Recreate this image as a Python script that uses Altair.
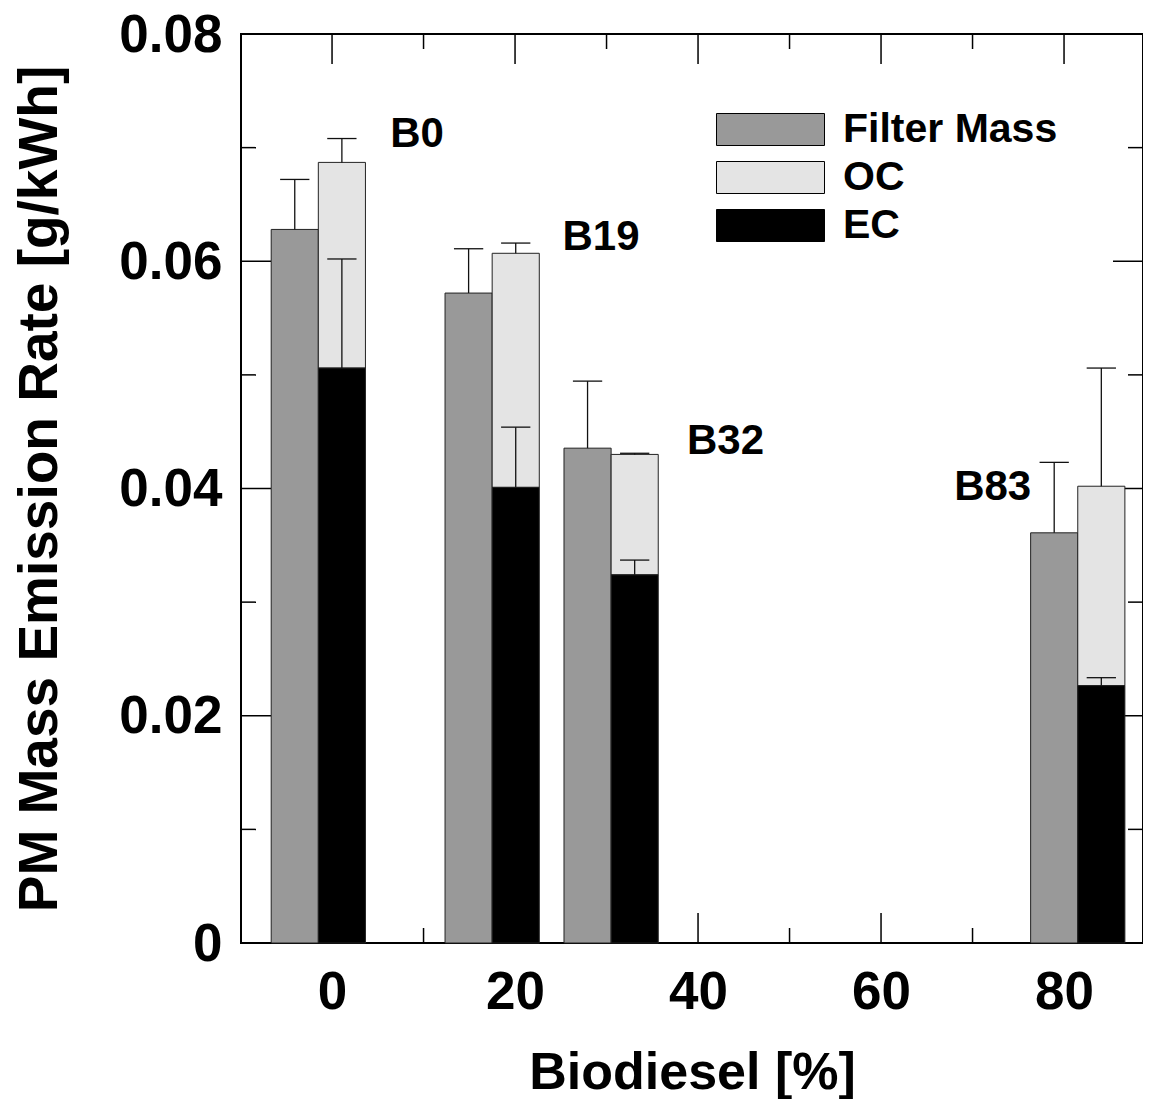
import altair as alt
import pandas as pd

# ---- data ----
blend_pct = [0, 19, 32, 83]
blend_labels = ["B0", "B19", "B32", "B83"]
filter_mass = [0.0628, 0.0572, 0.04355, 0.0361]
filter_mass_err = [0.0044, 0.0039, 0.0059, 0.0062]
ec_values = [0.0506, 0.0401, 0.0324, 0.02265]
ec_err = [0.0096, 0.0053, 0.0013, 0.0007]
oc_values = [0.0181, 0.0206, 0.0106, 0.01755]
total_err = [0.0021, 0.0009, 0.0001, 0.0104]
label_x = [9.3, 29.4, 43.0, 72.2]
label_y = [0.0712, 0.0621, 0.0442, 0.0401]

components = ["Filter Mass", "OC", "EC"]
component_colors = ["#999999", "#e4e4e4", "#000000"]

x_major = [0, 20, 40, 60, 80]
x_minor = [10, 30, 50, 70]
y_major = [0, 0.02, 0.04, 0.06, 0.08]
y_minor = [0.01, 0.03, 0.05, 0.07]

# ---- geometry / style ----
W, H = 902, 909
X_DOMAIN = [-9.95, 88.63]
BAR_W = 5.15
SHIFT = -1.5
CAP = 1.6
FONT = "Liberation Sans"
MAJ, MIN = 30, 15

bars, errs = [], []
for p, fm, fe, ec, ee, oc, te in zip(blend_pct, filter_mass, filter_mass_err,
                                     ec_values, ec_err, oc_values, total_err):
    j = p + SHIFT
    bars.append(dict(x=j - BAR_W, x2=j, y=0, y2=fm, comp="Filter Mass"))
    bars.append(dict(x=j, x2=j + BAR_W, y=ec, y2=ec + oc, comp="OC"))
    bars.append(dict(x=j, x2=j + BAR_W, y=0, y2=ec, comp="EC"))
    for c, base, e in [(j - BAR_W / 2, fm, fe), (j + BAR_W / 2, ec, ee),
                       (j + BAR_W / 2, ec + oc, te)]:
        errs.append(dict(x=c, cl=c - CAP, cr=c + CAP, y=base, y2=base + e))
bars_df = pd.DataFrame(bars)
errs_df = pd.DataFrame(errs)
labels_df = pd.DataFrame(dict(x=label_x, y=label_y, t=blend_labels))

xs = alt.Scale(domain=X_DOMAIN, nice=False, zero=False)
ys = alt.Scale(domain=[0, 0.08], nice=False, zero=True)

x_axis = alt.Axis(values=x_major, ticks=False, tickSize=0, domain=False, grid=False,
                  labelFont=FONT, labelFontSize=53, labelFontWeight="bold",
                  labelPadding=23, labelColor="black",
                  title="Biodiesel [%]", titleFont=FONT, titleFontSize=52,
                  titleFontWeight="bold", titlePadding=28, titleColor="black")
y_axis = alt.Axis(values=y_major, ticks=False, tickSize=0, domain=False, grid=False,
                  labelFont=FONT, labelFontSize=53, labelFontWeight="bold",
                  labelPadding=19, labelOffset=1, labelColor="black",
                  labelExpr="datum.value == 0 ? '0' : format(datum.value, '.2f')",
                  title="PM Mass Emission Rate [g/kWh]", titleFont=FONT,
                  titleFontSize=55, titleFontWeight="bold", titlePadding=50,
                  titleColor="black")

# legend symbol: 108 x 32 px box drawn with a small nominal symbol size
SYM = 32
legend = alt.Legend(title=None, orient="none", legendX=509, legendY=75,
                    symbolType="M-3.375,-1H3.375V1H-3.375Z", symbolSize=SYM * SYM,
                    symbolStrokeColor="black", symbolStrokeWidth=1, symbolOpacity=1,
                    labelFont=FONT, labelFontSize=41, labelFontWeight="bold",
                    labelColor="black", labelOffset=52, rowPadding=6, padding=0,
                    labelLimit=500)

def tick_layer(vals, orient, length):
    d = pd.DataFrame(dict(v=vals))
    base = alt.Chart(d).mark_rule(color="black", strokeWidth=1.5)
    if orient == "left":
        return base.encode(y=alt.Y("v:Q", scale=ys, axis=y_axis),
                           x=alt.value(0), x2=alt.value(length))
    if orient == "right":
        return base.encode(y=alt.Y("v:Q", scale=ys, axis=y_axis),
                           x=alt.value(W - length), x2=alt.value(W))
    if orient == "top":
        return base.encode(x=alt.X("v:Q", scale=xs, axis=x_axis),
                           y=alt.value(0), y2=alt.value(length))
    return base.encode(x=alt.X("v:Q", scale=xs, axis=x_axis),
                       y=alt.value(H - length), y2=alt.value(H))

ticks = []
for o in ["left", "right"]:
    ticks.append(tick_layer(y_major, o, MAJ))
    ticks.append(tick_layer(y_minor, o, MIN))
for o in ["top", "bottom"]:
    ticks.append(tick_layer(x_major, o, MAJ))
    ticks.append(tick_layer(x_minor, o, MIN))

bar_layer = alt.Chart(bars_df).mark_bar(stroke="#222222", strokeWidth=1).encode(
    x=alt.X("x:Q", scale=xs, axis=x_axis),
    x2="x2:Q",
    y=alt.Y("y:Q", scale=ys, axis=y_axis),
    y2="y2:Q",
    color=alt.Color("comp:N", scale=alt.Scale(domain=components, range=component_colors),
                    legend=legend),
)

err_line = alt.Chart(errs_df).mark_rule(color="#111111", strokeWidth=1.3).encode(
    x=alt.X("x:Q", scale=xs, axis=x_axis),
    y=alt.Y("y:Q", scale=ys, axis=y_axis),
    y2="y2:Q",
)
err_cap = alt.Chart(errs_df).mark_rule(color="#111111", strokeWidth=1.3).encode(
    x=alt.X("cl:Q", scale=xs, axis=x_axis),
    x2="cr:Q",
    y=alt.Y("y2:Q", scale=ys, axis=y_axis),
)

text_layer = alt.Chart(labels_df).mark_text(
    font=FONT, fontSize=42, fontWeight="bold", color="black",
    align="center", baseline="middle").encode(
    x=alt.X("x:Q", scale=xs, axis=x_axis),
    y=alt.Y("y:Q", scale=ys, axis=y_axis),
    text="t:N",
)

chart = alt.layer(*ticks, bar_layer, err_line, err_cap, text_layer).properties(
    width=W, height=H,
    background="white",
    autosize=alt.AutoSizeParams(type="none"),
    padding={"left": 233, "top": 26, "right": 0, "bottom": 156},
).configure_view(stroke="black", strokeWidth=2)

chart.save("out.html", embed_options={"renderer": "svg", "actions": False})
